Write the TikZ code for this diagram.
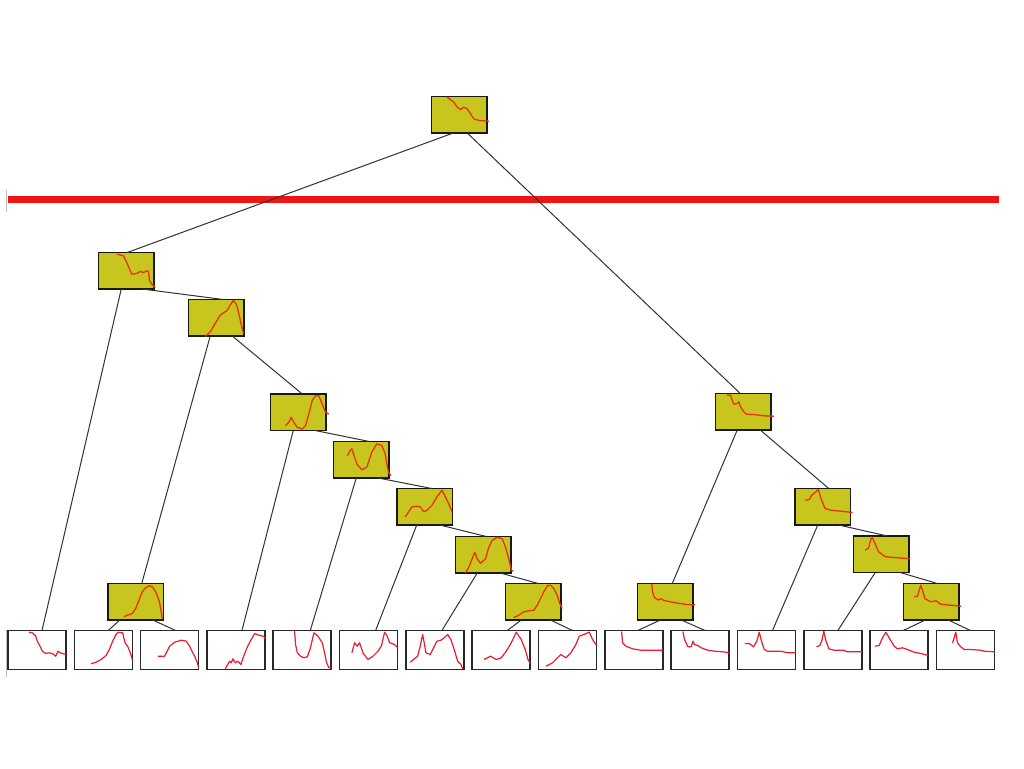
\documentclass[tikz,border=0pt]{standalone}
\definecolor{boxfill}{RGB}{200,198,30}
\definecolor{boxline}{RGB}{25,25,15}
\definecolor{leafline}{RGB}{40,40,40}
\definecolor{linkgrey}{RGB}{50,50,50}
\definecolor{icol}{RGB}{232,52,8}
\definecolor{lcol}{RGB}{236,28,48}
\definecolor{cutred}{RGB}{240,20,20}
\begin{document}
\begin{tikzpicture}[x=1pt,y=-1pt,
  ibox/.style={draw=boxline, line width=1.6pt, fill=boxfill, minimum width=55.5pt,
    minimum height=36.5pt, inner sep=0pt, outer sep=0pt, anchor=north west},
  lbox/.style={draw=leafline, line width=1.6pt, fill=white, minimum width=58pt,
    minimum height=39pt, inner sep=0pt, outer sep=0pt, anchor=north west},
  link/.style={draw=linkgrey, line width=1pt},
  icurve/.style={draw=icol, line width=1.3pt, line join=round},
  lcurve/.style={draw=lcol, line width=1.2pt, line join=round},
  cutline/.style={draw=cutred, line width=7pt},
  frametick/.style={draw=black!25, line width=1.5pt}]
\useasboundingbox (0,0) rectangle (1024,768);
\fill[white] (0,0) rectangle (1024,768);

% cut level and frame ticks
\coordinate (cutL) at (7.5,199);
\coordinate (cutR) at (999,199);
\draw[cutline] (cutL) -- (cutR);
\coordinate (tickA) at (6.5,190);
\coordinate (tickB) at (6.5,212);
\draw[frametick] (tickA) -- (tickB);
\coordinate (tickC) at (6.5,630);
\coordinate (tickD) at (6.5,677);
\draw[frametick] (tickC) -- (tickD);

% internal clusters
\node[ibox] (root) at (431.5,96.5) {};
\node[ibox] (L1)   at (98.5,252.5) {};
\node[ibox] (A2)   at (188.5,299.5) {};
\node[ibox] (A3)   at (270.5,394) {};
\node[ibox] (A4)   at (333.5,441.5) {};
\node[ibox] (A5)   at (397,488.5) {};
\node[ibox] (A6)   at (455.5,536.5) {};
\node[ibox] (A7)   at (505.5,583.5) {};
\node[ibox] (B)    at (108,583.5) {};
\node[ibox] (R1)   at (715.5,393.5) {};
\node[ibox] (R2)   at (795,488.5) {};
\node[ibox] (R3)   at (853.5,536) {};
\node[ibox] (R4)   at (903.5,583.5) {};
\node[ibox] (RB)   at (637.5,583.5) {};

% leaves
\foreach \i in {1,...,15}{
  \node[lbox] (leaf\i) at ({8+66.32*(\i-1)},630.5) {};
}

% links
\draw[link] ([xshift=-6]root.south) -- ([xshift=1]L1.north);
\draw[link] ([xshift=8]root.south) -- ([xshift=-3]R1.north);
\draw[link] ([xshift=-5]L1.south) -- ([xshift=5]leaf1.north);
\draw[link] ([xshift=16]L1.south) -- ([xshift=7]A2.north);
\draw[link] ([xshift=-6]A2.south) -- ([xshift=6]B.north);
\draw[link] ([xshift=16]A2.south) -- ([xshift=4]A3.north);
\draw[link] ([xshift=-16]B.south) -- ([xshift=5]leaf2.north);
\draw[link] ([xshift=17]B.south) -- ([xshift=6]leaf3.north);
\draw[link] ([xshift=-5]A3.south) -- ([xshift=6]leaf4.north);
\draw[link] ([xshift=17]A3.south) -- ([xshift=8]A4.north);
\draw[link] ([xshift=-5]A4.south) -- ([xshift=8]leaf5.north);
\draw[link] ([xshift=17]A4.south) -- ([xshift=7]A5.north);
\draw[link] ([xshift=-8]A5.south) -- ([xshift=7]leaf6.north);
\draw[link] ([xshift=15]A5.south) -- ([xshift=3]A6.north);
\draw[link] ([xshift=-6]A6.south) -- ([xshift=7]leaf7.north);
\draw[link] ([xshift=17]A6.south) -- ([xshift=5]A7.north);
\draw[link] ([xshift=-12]A7.south) -- ([xshift=6]leaf8.north);
\draw[link] ([xshift=17]A7.south) -- ([xshift=5]leaf9.north);
\draw[link] ([xshift=-6]R1.south) -- ([xshift=7]RB.north);
\draw[link] ([xshift=17]R1.south) -- ([xshift=6]R2.north);
\draw[link] ([xshift=-5]RB.south) -- ([xshift=4]leaf10.north);
\draw[link] ([xshift=16]RB.south) -- ([xshift=5]leaf11.north);
\draw[link] ([xshift=-5]R2.south) -- ([xshift=6]leaf12.north);
\draw[link] ([xshift=16]R2.south) -- ([xshift=6]R3.north);
\draw[link] ([xshift=-6]R3.south) -- ([xshift=5]leaf13.north);
\draw[link] ([xshift=19]R3.south) -- ([xshift=6]R4.north);
\draw[link] ([xshift=-6]R4.south) -- ([xshift=4]leaf14.north);
\draw[link] ([xshift=17]R4.south) -- ([xshift=5]leaf15.north);

% cluster profiles
\draw[icurve,shift={(root.north west)}] plot coordinates {(15.7,0.7) (22.3,5.7) (25.7,10.7) (29,13) (32.3,10.7) (35.7,12.3) (39,17.3) (42.3,22.3) (47.3,24) (57.3,24.7)};
\draw[icurve,shift={(L1.north west)}] plot coordinates {(18.3,1.7) (25,3.3) (28.3,10) (31.7,18.3) (33.3,21.7) (38.3,21) (41.7,19) (45,20) (48.3,18.3) (50,19) (51,28.3) (53.3,31.7) (56.7,35)};
\draw[icurve,shift={(A2.north west)}] plot coordinates {(16.7,37) (21.7,32.3) (26.7,24) (31.7,15.7) (35,13.3) (38.3,11.3) (41.7,5.7) (45,0.7) (48.3,5.7) (51,17.3) (53.3,27.3) (55,34)};
\draw[icurve,shift={(A3.north west)}] plot coordinates {(15,31.7) (18.3,28.3) (20.7,23.3) (23.3,28.3) (26.7,33.3) (31.7,35) (35,31.7) (38.3,20) (41.7,6.7) (45,1.7) (48.3,1.7) (51.7,10) (55,18.3) (58.3,20)};
\draw[icurve,shift={(A4.north west)}] plot coordinates {(14,14) (16.7,9) (18.3,7.3) (20,12.3) (23.3,22.3) (28.3,28.3) (33.3,25.7) (38.3,10.7) (43.3,2.3) (48.3,4) (51.7,12.3) (53.3,22.3) (55,30.7) (57.3,34)};
\draw[icurve,shift={(A5.north west)}] plot coordinates {(8.3,28.3) (11.7,23.3) (15,18.3) (20,17.7) (23.3,18.3) (26.7,23.3) (30,21.7) (35,16.7) (40,8.3) (45,1.7) (48.3,8.3) (51.7,15) (55,23.3)};
\draw[icurve,shift={(A6.north west)}] plot coordinates {(10,36.5) (13.3,30.7) (16.7,22.3) (19.3,15.7) (21.7,22.3) (25,26.7) (30,22.3) (33.3,10.7) (36.7,4) (41.7,0.7) (46.7,2.3) (50,10.7) (53.3,22.3) (55.7,33.3) (57.7,34.7)};
\draw[icurve,shift={(A7.north west)}] plot coordinates {(8.3,34) (13.3,31.7) (18.3,28.3) (23.3,27.3) (28.3,26.7) (31.7,21.7) (35,15) (38.3,8.3) (42.3,1.7) (45,1.7) (48.3,5) (51.7,11.7) (54.3,20) (56.7,25)};
\draw[icurve,shift={(B.north west)}] plot coordinates {(16,33.3) (19.3,31.7) (24.3,30) (27.7,25) (31,16.7) (34.3,8.3) (37.7,4.3) (41,2.3) (44.3,3.3) (47.7,8.3) (51,16.7) (52.7,25) (54.3,35)};
\draw[icurve,shift={(R1.north west)}] plot coordinates {(11.7,1.7) (15,1.7) (16.7,6.7) (18.3,10.7) (21.7,10) (23.3,8.3) (25,13.3) (28.3,18.3) (31,20.7) (38.3,21) (48.3,22.3) (58.3,22.7)};
\draw[icurve,shift={(R2.north west)}] plot coordinates {(10.3,11.7) (14.3,11) (16.7,6.7) (21,3.3) (23.3,1) (26,10) (30,20) (36,21.7) (46,22.7) (57.7,24)};
\draw[icurve,shift={(R3.north west)}] plot coordinates {(11.7,14) (15,12.3) (16.7,5.7) (18.3,0.7) (20.7,5.7) (25,15.7) (31.7,20.7) (43.3,21.7) (56.7,22.7)};
\draw[icurve,shift={(R4.north west)}] plot coordinates {(10.7,13.3) (14,12.7) (15.7,6.7) (17.3,1.7) (19,6.7) (21.3,15) (27.3,18.3) (32.3,17.3) (37.3,20.7) (47.3,21.7) (57.3,22.7)};
\draw[icurve,shift={(RB.north west)}] plot coordinates {(14.3,0.7) (15,8.3) (17,14) (21,16.7) (22.7,15) (26,16.7) (32.7,18.3) (42.7,20) (49.3,21) (57.7,21.3)};

% leaf profiles
\draw[lcurve,shift={(leaf1.north west)}] plot coordinates {(21,1.7) (24.3,2.3) (27.7,5.7) (29.3,10.7) (32,15.7) (34.3,20.7) (37.7,23) (41,22.3) (44.3,23) (47.7,25.7) (50,20.7) (52,22.3) (55.3,23.3) (58,24)};
\draw[lcurve,shift={(leaf2.north west)}] plot coordinates {(16.7,33.3) (21.7,31.7) (26.7,29) (31.7,25) (35,19) (38.3,10.7) (41.7,4) (44,1.7) (48.3,2.3) (50.7,12.3) (53.3,15.7) (56,22.3) (58,29)};
\draw[lcurve,shift={(leaf3.north west)}] plot coordinates {(17.3,25.7) (24,25.7) (25.7,22.3) (29,15.7) (34,11.7) (40.7,9.7) (45.7,10.7) (49,15.7) (51.3,20.7) (54,25.7) (56.7,32.3) (58,37.3)};
\draw[lcurve,shift={(leaf4.north west)}] plot coordinates {(18.3,38.5) (20.7,34) (22.7,30.7) (24.3,32.3) (26,28.3) (28.3,32.3) (30.7,30.7) (34,34) (36.7,25.7) (40,17.3) (43.3,10.7) (47.7,3) (52.7,5) (56.7,5.7) (58,8.3)};
\draw[lcurve,shift={(leaf5.north west)}] plot coordinates {(21.3,0.7) (22.3,14) (24,22.3) (27.3,25.7) (30.7,27.3) (34,26.3) (36.7,19) (40.7,2.3) (44.7,5.7) (49,12.3) (51.3,22.3) (53.3,32.3) (55.7,37.3) (58,37.3)};
\draw[lcurve,shift={(leaf6.north west)}] plot coordinates {(12.3,22.3) (15,12.3) (17.7,15.7) (20,12.3) (23.3,22.3) (28.3,29) (33.3,25.7) (38.3,20.7) (41.7,15.7) (45,1.7) (47.7,5.7) (50,12.3) (55,14) (58,17.3)};
\draw[lcurve,shift={(leaf7.north west)}] plot coordinates {(4.3,31.7) (8.3,28.3) (11.7,25.7) (14.3,15.7) (16.7,4) (18.3,12.3) (20,22.3) (24.3,24) (27.7,17.3) (31,10.7) (35,9.7) (38.3,7.3) (41.7,4) (45,9) (48.3,19) (51.7,30.7) (55,34) (56.7,38.3)};
\draw[lcurve,shift={(leaf8.north west)}] plot coordinates {(11.7,29) (18.3,25.7) (24,29) (29,27.3) (34,20.7) (39,12.3) (44,1.7) (49,9) (53,19) (55.7,29) (58,33)};
\draw[lcurve,shift={(leaf9.north west)}] plot coordinates {(7.3,35.7) (14,32.3) (19,27.3) (22.3,24) (27.3,27.3) (32.3,22.3) (37.3,14) (40.7,5.7) (45,4) (50.7,1.7) (54,9) (57.3,14) (58,13)};
\draw[lcurve,shift={(leaf10.north west)}] plot coordinates {(16.7,1) (17.7,12.3) (21,15.7) (27.7,18.3) (36,19.7) (46,19.7) (58,19.7)};
\draw[lcurve,shift={(leaf11.north west)}] plot coordinates {(11.7,1) (13.3,9) (16.7,16.3) (20,16.3) (21.7,10.7) (23.3,14) (26.7,15) (30,17.3) (36.7,19.7) (43.3,20.7) (51.7,21.3) (58,22.3)};
\draw[lcurve,shift={(leaf12.north west)}] plot coordinates {(7.3,13) (11.7,13) (16,16.3) (19.3,10.7) (21.7,1.7) (24,10.7) (26.7,19) (30,20.7) (43.3,20.7) (50,22.3) (58,22.3)};
\draw[lcurve,shift={(leaf13.north west)}] plot coordinates {(12.7,16.3) (16,15) (18.3,9) (20,0.7) (21.7,9) (25,18.3) (30,19.7) (40,19.7) (43.3,21.3) (58,21.3)};
\draw[lcurve,shift={(leaf14.north west)}] plot coordinates {(4.7,15.7) (9,15) (12.3,7.3) (15.7,1.7) (19,7.3) (24,15.7) (27.3,18.3) (32.3,17.3) (37.3,19) (44,21.7) (50.7,23) (58,25)};
\draw[lcurve,shift={(leaf15.north west)}] plot coordinates {(16,12.3) (17.7,7.3) (19.3,1.7) (21,12.3) (24.3,16.3) (27.7,19) (34.3,19) (44.3,19.7) (47.7,20.7) (58,21.3)};
\end{tikzpicture}
\end{document}
